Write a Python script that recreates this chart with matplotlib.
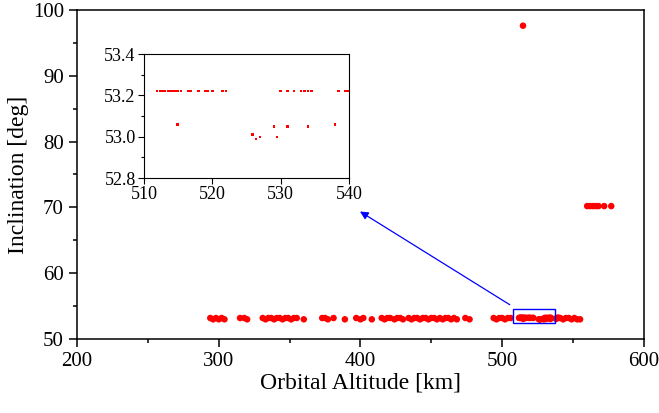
import matplotlib.pyplot as plt
from matplotlib.patches import Rectangle
from matplotlib.ticker import MultipleLocator

plt.rcParams['font.family'] = ['Liberation Serif', 'DejaVu Serif']

# main shell points outside the zoomed window
alt_main = [294, 296, 298, 300, 302, 304,
            315, 318, 320,
            331, 333, 335, 337, 339, 341, 343, 345, 347, 349, 351, 353, 355,
            360, 373, 375, 377, 381, 389, 397, 400, 402, 408,
            415, 417, 419, 421, 424, 426, 428, 430,
            434, 436, 438, 440, 442, 444, 446, 448, 450, 452, 454, 456, 458,
            460, 462, 464, 466, 468, 474, 477,
            494, 496, 498, 500, 502, 504, 506,
            541, 543, 545, 547, 549, 551, 553, 555]
inc_main = [53.2, 53.0, 53.2, 53.0, 53.2, 53.0,
            53.2, 53.2, 53.0,
            53.2, 53.0, 53.2, 53.2, 53.0, 53.2, 53.2, 53.0, 53.2, 53.2, 53.0, 53.2, 53.2,
            53.0, 53.2, 53.2, 53.0, 53.2, 53.0, 53.2, 53.0, 53.2, 53.0,
            53.2, 53.0, 53.2, 53.2, 53.0, 53.2, 53.2, 53.0,
            53.2, 53.0, 53.2, 53.2, 53.0, 53.2, 53.2, 53.0, 53.2, 53.2, 53.0, 53.2, 53.0,
            53.2, 53.2, 53.0, 53.2, 53.0, 53.2, 53.0,
            53.2, 53.0, 53.2, 53.2, 53.0, 53.2, 53.2,
            53.2, 53.0, 53.2, 53.2, 53.0, 53.2, 53.0, 53.0]

# high inclination shells
alt_high = [514.7, 560, 562, 564, 566, 568, 572, 577]
inc_high = [97.6, 70.2, 70.2, 70.2, 70.2, 70.2, 70.2, 70.2]

# zoomed window 510-540 km
alt_zoom = [511.9, 512.3, 512.7, 513.1, 513.5, 513.9, 514.2, 514.6, 515.0, 515.4,
            516.4, 516.8, 518.0, 518.9, 519.3, 520.0, 521.5, 522.0,
            530.0, 531.0, 532.0, 533.0, 533.5, 534.0, 534.5, 538.5, 539.4, 539.6, 539.9,
            514.9, 525.9, 526.4, 527.0, 529.0, 529.5, 531.0, 534.0, 538.0]
inc_zoom = [53.22] * 29 + [53.06, 53.01, 52.99, 53.0, 53.05, 53.0, 53.05, 53.05, 53.06]

fig = plt.figure(figsize=(6.59, 4.13), dpi=100)
ax = fig.add_axes([0.117, 0.179, 0.860, 0.797])

ax.scatter(alt_main + alt_zoom + alt_high, inc_main + inc_zoom + inc_high,
           s=22, color='red', edgecolors='none', zorder=3)
ax.set_xlim(200, 600)
ax.set_ylim(50, 100)
ax.xaxis.set_major_locator(MultipleLocator(100))
ax.xaxis.set_minor_locator(MultipleLocator(50))
ax.yaxis.set_major_locator(MultipleLocator(10))
ax.yaxis.set_minor_locator(MultipleLocator(5))
ax.tick_params(which='major', direction='out', length=6, width=1.1, labelsize=15)
ax.tick_params(which='minor', direction='out', length=3, width=1.1)
for sp in ax.spines.values():
    sp.set_linewidth(1.1)
ax.set_xlabel('Orbital Altitude [km]', fontsize=17, labelpad=1)
ax.set_ylabel('Inclination [deg]', fontsize=17, labelpad=3)

ax.add_patch(Rectangle((508, 52.4), 29, 2.1, fill=False, edgecolor='blue', lw=1, zorder=4))
ax.annotate('', xy=(398, 69.6), xytext=(507, 55.0),
            arrowprops=dict(arrowstyle='-|>', color='blue', lw=0.9, mutation_scale=12))

ins = fig.add_axes([0.2185, 0.569, 0.311, 0.300])
ins.scatter(alt_zoom, inc_zoom, s=3, marker='s', color='red', edgecolors='none')
ins.set_xlim(510, 540)
ins.set_ylim(52.8, 53.4)
ins.xaxis.set_major_locator(MultipleLocator(10))
ins.yaxis.set_major_locator(MultipleLocator(0.2))
ins.yaxis.set_minor_locator(MultipleLocator(0.1))
ins.yaxis.set_major_formatter(plt.FormatStrFormatter('%.1f'))
ins.tick_params(which='major', direction='out', length=4, width=0.8, labelsize=13, pad=2)
ins.tick_params(which='minor', direction='out', length=2, width=0.8)
for sp in ins.spines.values():
    sp.set_linewidth(0.8)

fig.savefig('out.png', dpi=100)
